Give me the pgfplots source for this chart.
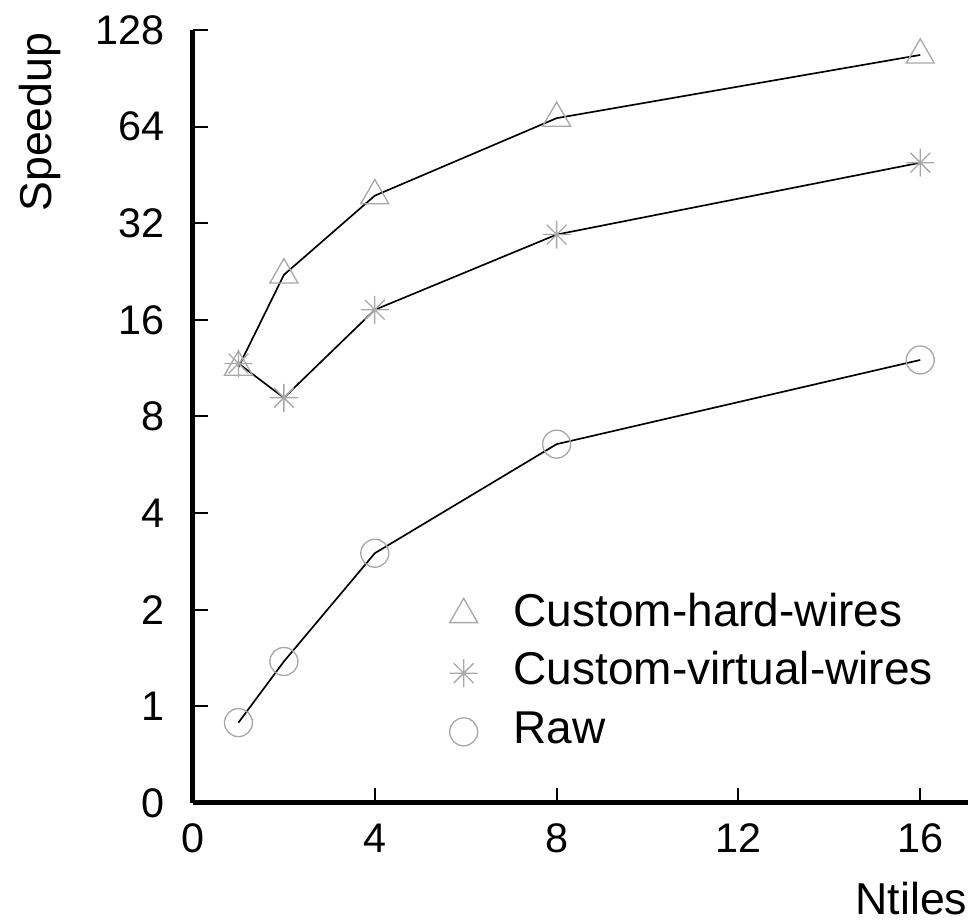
\documentclass[border=0pt]{standalone}
\usepackage{fontspec}
\setmainfont{Liberation Sans}
\usepackage{pgfplots}
\pgfplotsset{compat=1.18}
\definecolor{markgray}{HTML}{A8A8A8}

% eight-armed asterisk
\pgfdeclareplotmark{ast8}{%
  \pgfpathmoveto{\pgfqpoint{0pt}{\pgfplotmarksize}}%
  \pgfpathlineto{\pgfqpoint{0pt}{-\pgfplotmarksize}}%
  \pgfpathmoveto{\pgfqpoint{\pgfplotmarksize}{0pt}}%
  \pgfpathlineto{\pgfqpoint{-\pgfplotmarksize}{0pt}}%
  \pgfpathmoveto{\pgfqpoint{0.7071\pgfplotmarksize}{0.7071\pgfplotmarksize}}%
  \pgfpathlineto{\pgfqpoint{-0.7071\pgfplotmarksize}{-0.7071\pgfplotmarksize}}%
  \pgfpathmoveto{\pgfqpoint{-0.7071\pgfplotmarksize}{0.7071\pgfplotmarksize}}%
  \pgfpathlineto{\pgfqpoint{0.7071\pgfplotmarksize}{-0.7071\pgfplotmarksize}}%
  \pgfusepathqstroke}

\pgfplotsset{
  markonly legend/.style={legend image code/.code={%
    \path[draw=none] (-6pt,0pt) -- (6pt,0pt);
    \draw[##1, only marks] plot coordinates {(0pt,0pt)};}},
  series/.style={black, line width=0.5pt, markonly legend,
    mark options={draw=markgray, line width=0.4pt, fill=none, solid}},
}

\begin{document}
\begin{tikzpicture}
\useasboundingbox (0,0) rectangle (292.8pt,276pt);
\begin{axis}[
  at={(57.9pt,35.1pt)}, anchor=south west,
  scale only axis, width=232.5pt, height=231.9pt,
  font=\fontsize{13.4}{15}\selectfont,
  ymode=log, log basis y=2,
  xmin=0, xmax=17.05, ymin=0.5, ymax=128,
  axis x line*=bottom, axis y line*=left,
  axis line style={line width=1.5pt, -},
  tick align=inside, major tick length=4.5pt,
  tick style={line width=0.6pt, black},
  xtick={0,4,8,12,16}, xticklabels={0,4,8,12,16},
  ytick={0.5,1,2,4,8,16,32,64,128},
  yticklabels={0,1,2,4,8,16,32,64,128},
  /pgf/number format/assume math mode=true,
  ticklabel style={font=\fontsize{12.4}{14}\selectfont},
  yticklabel style={anchor=east, inner sep=0pt, xshift=-8.4pt},
  xticklabel style={anchor=north, inner sep=0pt, yshift=-6pt},
  every axis x label/.style={at={(axis description cs:1,0)}, anchor=base east,
    yshift=-33.4pt, inner sep=0pt},
  every axis y label/.style={at={(axis description cs:0,1)}, xshift=-42.3pt,
    yshift=-0.6pt, rotate=90, anchor=base east, inner sep=0pt},
  xlabel={Ntiles}, ylabel={Speedup},
  clip=false,
  legend style={at={(axis description cs:0.3226,0.2723)}, anchor=north west,
    draw=none, fill=none, inner sep=0pt, column sep=9pt, row sep=4.8pt,
    nodes={inner sep=0pt, text height=9.9pt, text depth=2.9pt},
    font=\fontsize{13.8}{16}\selectfont},
  legend cell align=left,
]
\addplot[series, mark=triangle, mark size=4.85pt] coordinates {
  (1,11.4) (2,22.1) (4,39) (8,68) (16,107)
};
\addplot[series, mark=ast8, mark size=4.2pt] coordinates {
  (1,11.7) (2,9.15) (4,17.2) (8,29.5) (16,49.4)
};
\addplot[series, mark=o, mark size=4.2pt] coordinates {
  (1,0.89) (2,1.38) (4,3.0) (8,6.56) (16,12)
};
\legend{Custom-hard-wires, Custom-virtual-wires, Raw}
\end{axis}
\end{tikzpicture}
\end{document}
